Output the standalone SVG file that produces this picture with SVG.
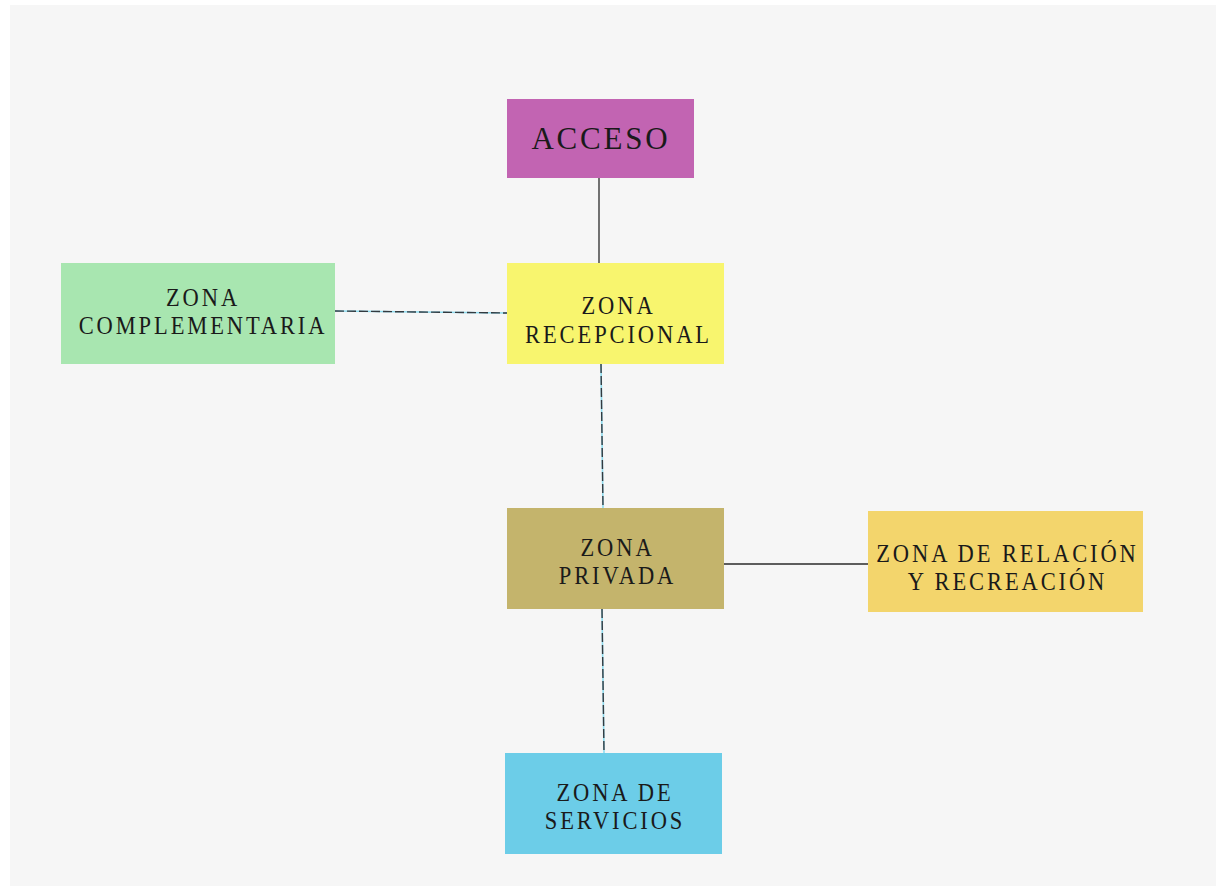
<svg xmlns="http://www.w3.org/2000/svg" width="1216" height="891" viewBox="0 0 1216 891">
<style>
.lbl{font-family:"Liberation Serif","Times New Roman",serif;font-size:22.5px;letter-spacing:2.9px;fill:#1a1a1a;text-anchor:middle}
.big{font-size:31px;letter-spacing:2.8px}
.solid{stroke:#2a2a2a;stroke-width:1.3;fill:none}
.under{stroke:#8fdcef;stroke-width:1.6;fill:none}
.dash{stroke:#333a40;stroke-width:1.4;stroke-dasharray:9 3;fill:none}
</style>
<rect x="0" y="0" width="1216" height="891" fill="#ffffff"/>
<rect x="10" y="5" width="1206" height="881" fill="#f6f6f6"/>
<g id="connectors">
<line class="solid" x1="599" y1="178" x2="599" y2="263"/>
<line class="under" x1="335" y1="311" x2="507" y2="313"/>
<line class="dash" x1="335" y1="311" x2="507" y2="313"/>
<line class="under" x1="601" y1="364" x2="603" y2="508"/>
<line class="dash" x1="601" y1="364" x2="603" y2="508"/>
<line class="solid" x1="724" y1="564" x2="868" y2="564"/>
<line class="under" x1="602" y1="609" x2="604" y2="753"/>
<line class="dash" x1="602" y1="609" x2="604" y2="753"/>
</g>
<g id="acceso">
<rect x="507" y="99" width="187" height="79" fill="#c264b2"/>
<text class="lbl big" x="601" y="149">ACCESO</text>
</g>
<g id="recepcional">
<rect x="507" y="263" width="217" height="101" fill="#f8f56e"/>
<text class="lbl" transform="translate(618.5,313.5) scale(1,1.1)">ZONA</text>
<text class="lbl" transform="translate(618.5,342.5) scale(1,1.1)">RECEPCIONAL</text>
</g>
<g id="complementaria">
<rect x="61" y="263" width="274" height="101" fill="#a8e6b0"/>
<text class="lbl" transform="translate(203,305.5) scale(1,1.1)">ZONA</text>
<text class="lbl" transform="translate(203,333.5) scale(1,1.1)">COMPLEMENTARIA</text>
</g>
<g id="privada">
<rect x="507" y="508" width="217" height="101" fill="#c4b46c"/>
<text class="lbl" transform="translate(617.5,555.5) scale(1,1.1)">ZONA</text>
<text class="lbl" transform="translate(617.5,583.5) scale(1,1.1)">PRIVADA</text>
</g>
<g id="relacion">
<rect x="868" y="511" width="275" height="101" fill="#f3d56c"/>
<text class="lbl" transform="translate(1007.5,561.5) scale(1,1.1)">ZONA DE RELACIÓN</text>
<text class="lbl" transform="translate(1007.5,589.5) scale(1,1.1)">Y RECREACIÓN</text>
</g>
<g id="servicios">
<rect x="505" y="753" width="217" height="101" fill="#6ccde8"/>
<text class="lbl" transform="translate(615,800.5) scale(1,1.1)">ZONA DE</text>
<text class="lbl" transform="translate(615,828.5) scale(1,1.1)">SERVICIOS</text>
</g>
</svg>
